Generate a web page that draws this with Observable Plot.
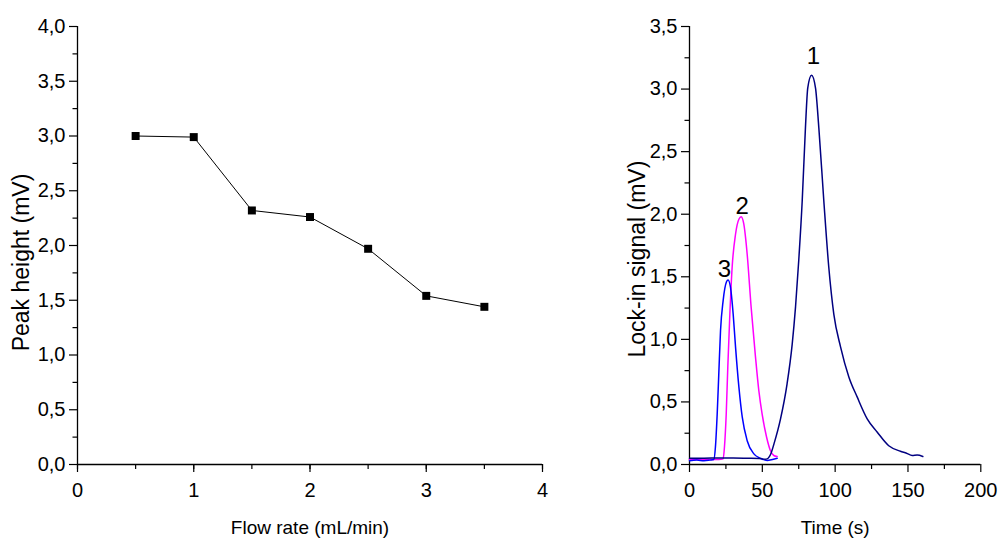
<!DOCTYPE html>
<html>
<head>
<meta charset="utf-8">
<script src="https://cdn.jsdelivr.net/npm/d3@7"></script>
<script src="https://cdn.jsdelivr.net/npm/@observablehq/plot@0.6"></script>
<style>
  html, body { margin: 0; padding: 0; background: #fff; }
  #wrap { position: relative; width: 998px; height: 538px; overflow: hidden; background: #fff; }
  #left { position: absolute; left: 0; top: 0; }
  #right { position: absolute; left: 600px; top: 0; }
</style>
</head>
<body>
<div id="wrap"><div id="left"></div><div id="right"></div></div>
<script>
// ---- Left panel data: peak height vs flow rate ----
const flowRate = [0.5, 1.0, 1.5, 2.0, 2.5, 3.0, 3.5];
const peakHeight = [3.00, 2.99, 2.32, 2.26, 1.97, 1.54, 1.44];
const leftXTicks = [0, 1, 2, 3, 4];
const leftXMinor = [0, 0.5, 1, 1.5, 2, 2.5, 3, 3.5, 4];
const leftYTicks = [0, 0.5, 1, 1.5, 2, 2.5, 3, 3.5, 4];
const leftYMinor = [0.25, 0.75, 1.25, 1.75, 2.25, 2.75, 3.25, 3.75];

// ---- Right panel data: lock-in signal vs time ----
const time1 = [0, 10, 20, 30, 40, 48, 52, 53.3, 56, 58, 62.5, 67, 70.5, 72.8, 75, 77.4, 79.6, 81.2, 83.8, 86.5, 88.8, 92.2, 95.6, 99.1, 103.7, 109.4, 115.1, 122, 128.8, 136.8, 144.8, 149, 152.9, 156.3, 160.2];
const signal1 = [0.05, 0.05, 0.052, 0.052, 0.05, 0.048, 0.042, 0.045, 0.09, 0.165, 0.365, 0.645, 0.96, 1.26, 1.63, 2.11, 2.69, 3.01, 3.11, 3.01, 2.69, 2.11, 1.58, 1.20, 0.94, 0.70, 0.54, 0.365, 0.26, 0.15, 0.106, 0.09, 0.072, 0.075, 0.064];
const time2 = [0, 10, 20, 23.1, 24, 25.2, 26.3, 27.7, 29.3, 31.6, 33.9, 35.5, 37.3, 39.6, 42.3, 45.3, 47.6, 49.9, 52.9, 55.6, 57.9, 60.2];
const signal2 = [0.04, 0.04, 0.04, 0.045, 0.14, 0.40, 0.78, 1.20, 1.58, 1.84, 1.96, 1.98, 1.92, 1.68, 1.26, 0.86, 0.59, 0.40, 0.22, 0.11, 0.072, 0.064];
const time3 = [0, 5, 10, 14, 16.7, 17.8, 19, 20.1, 21.3, 23.1, 25.4, 26.5, 28.1, 30, 31.6, 33.9, 36.2, 39.6, 44.2, 48.7, 53.3, 57, 60.2];
const signal3 = [0.03, 0.035, 0.03, 0.035, 0.04, 0.14, 0.40, 0.72, 1.07, 1.31, 1.46, 1.475, 1.42, 1.20, 0.94, 0.62, 0.38, 0.19, 0.085, 0.05, 0.032, 0.04, 0.05];
const peakLabels = ["1", "2", "3"];
const peakLabelTime = [85.1, 36.2, 24];
const peakLabelSignal = [3.2, 2.005, 1.5];
const rightXTicks = [0, 50, 100, 150, 200];
const rightXMinor = [25, 75, 125, 175];
const rightYTicks = [0, 0.5, 1, 1.5, 2, 2.5, 3, 3.5];
const rightYMinor = [0.25, 0.75, 1.25, 1.75, 2.25, 2.75, 3.25];

const comma = d => d3.format(".1f")(d).replace(".", ",");
const intFmt = d => String(d);
const blank = () => "";
const FONT = "'Liberation Sans', Arial, Helvetica, sans-serif";

const leftData = flowRate.map((x, i) => ({x, y: peakHeight[i]}));
const s1 = time1.map((t, i) => ({t, v: signal1[i]}));
const s2 = time2.map((t, i) => ({t, v: signal2[i]}));
const s3 = time3.map((t, i) => ({t, v: signal3[i]}));
const labels = peakLabels.map((s, i) => ({s, t: peakLabelTime[i], v: peakLabelSignal[i]}));

const common = {
  height: 538,
  marginTop: 26,
  marginBottom: 74,
  style: {fontFamily: FONT, color: "#000", background: "#fff", overflow: "visible"}
};

function axes(xMinor, xMajor, yMinor, yMajor) {
  return [
    Plot.axisX(xMinor, {tickSize: 5, tickFormat: blank, label: null, strokeWidth: 1.2}),
    Plot.axisX(xMajor, {tickSize: 8, tickPadding: 10, fontSize: 20, tickFormat: intFmt, label: null, strokeWidth: 1.2}),
    Plot.axisY(yMinor, {tickSize: 4.5, tickFormat: blank, label: null, strokeWidth: 1.2}),
    Plot.axisY(yMajor, {tickSize: 8, tickPadding: 4, fontSize: 20, tickFormat: comma, label: null, strokeWidth: 1.2}),
    Plot.ruleX([0], {strokeWidth: 1.3}),
    Plot.ruleY([0], {strokeWidth: 1.3})
  ];
}

const left = Plot.plot({
  ...common,
  width: 560,
  marginLeft: 77,
  marginRight: 18,
  x: {domain: [0, 4], axis: null},
  y: {domain: [0, 4], axis: null},
  marks: [
    ...axes(leftXMinor, leftXTicks, leftYMinor, leftYTicks),
    Plot.line(leftData, {x: "x", y: "y", stroke: "#000", strokeWidth: 1}),
    Plot.dot(leftData, {x: "x", y: "y", symbol: "square", r: 4.5, fill: "#000", stroke: "none"}),
    Plot.text(["Peak height (mV)"], {frameAnchor: "left", textAnchor: "middle", rotate: -90, lineAnchor: "top", dx: -64.5, dy: 17, fontSize: 23}),
    Plot.text(["Flow rate (mL/min)"], {frameAnchor: "bottom", lineAnchor: "bottom", dy: 69, fontSize: 19})
  ]
});
document.getElementById("left").append(left);

const right = Plot.plot({
  ...common,
  width: 398,
  marginLeft: 89,
  marginRight: 17.7,
  x: {domain: [0, 200], axis: null},
  y: {domain: [0, 3.5], axis: null},
  marks: [
    ...axes(rightXMinor, rightXTicks, rightYMinor, rightYTicks),
    Plot.line(s2, {x: "t", y: "v", stroke: "#ff00ff", strokeWidth: 1.5, curve: "monotone-x"}),
    Plot.line(s3, {x: "t", y: "v", stroke: "#0000ff", strokeWidth: 1.5, curve: "monotone-x"}),
    Plot.line(s1, {x: "t", y: "v", stroke: "#000080", strokeWidth: 1.5, curve: "monotone-x"}),
    Plot.text(labels, {x: "t", y: "v", text: "s", lineAnchor: "bottom", fontSize: 24, fill: "#000"}),
    Plot.text(["Lock-in signal (mV)"], {frameAnchor: "left", textAnchor: "middle", rotate: -90, lineAnchor: "top", dx: -61, dy: 13.6, fontSize: 23}),
    Plot.text(["Time (s)"], {frameAnchor: "bottom", lineAnchor: "bottom", dy: 69, fontSize: 19})
  ]
});
document.getElementById("right").append(right);
</script>
</body>
</html>
